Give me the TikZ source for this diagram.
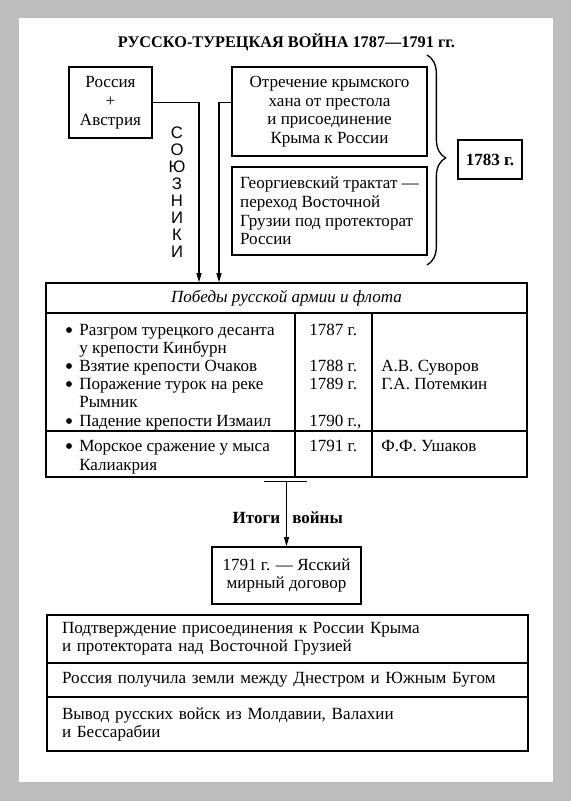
\documentclass[tikz,border=0pt]{standalone}
\usepackage{fontspec}
\setmainfont{Liberation Serif}
\newfontfamily\sovsans{Liberation Sans}
\usetikzlibrary{decorations.pathreplacing,arrows.meta,calc}
\definecolor{bggray}{RGB}{189,189,189}
\newcommand\fsz{\fontsize{12.8}{14}\selectfont}
\begin{document}
\begin{tikzpicture}[x=0.75pt,y=-0.75pt,
  every node/.style={font=\fsz, text=black},
  boxnode/.style={draw, line width=1pt, inner sep=0pt, align=center},
  resnode/.style={draw, line width=1pt, inner ysep=0pt, inner xsep=11.25pt, text width=338.25pt, align=left, font=\fontsize{12.8}{13.5}\selectfont},
  txt/.style={anchor=base west, inner sep=0pt},
  bul/.style={circle, fill=black, inner sep=0pt, minimum size=4.4pt},
  arr/.style={line width=1pt, -{Triangle[length=7pt,width=3.8pt]}},
  tline/.style={line width=1pt}]
\useasboundingbox (0,0) rectangle (571,801);
\fill[bggray] (0,0) rectangle (571,801);
\fill[white] (19,18) rectangle (553,782);

% title
\node[anchor=base, font=\fontsize{12.2}{14}\selectfont\bfseries] (title) at (286.5,47) {РУССКО-ТУРЕЦКАЯ ВОЙНА 1787—1791 гг.};

% top boxes
\node[boxnode, minimum width=62.25pt, minimum height=53.25pt, font=\fontsize{12.8}{14.25}\selectfont] (ra) at (110.5,102.5) {Россия\\+\\Австрия};
\node[boxnode, minimum width=146.25pt, minimum height=66.75pt] (otr) at (329.5,111.5) {Отречение крымского\\хана от престола\\и присоединение\\Крыма к России};
\node[boxnode, align=left, minimum width=146.25pt, minimum height=66pt] (geo) at (329.5,211) {Георгиевский трактат —\\переход Восточной\\Грузии под протекторат\\России};
\node[boxnode, minimum width=48pt, minimum height=29.25pt, font=\fsz\bfseries] (yr) at (490,159.5) {1783 г.};
\draw[line width=1pt, decorate, decoration={brace, amplitude=14pt, aspect=0.49}] (427,55) -- (427,265);

% allies
\node[align=center, inner sep=0pt, font=\fontsize{12.5}{12.75}\selectfont\sovsans] (allies) at (177,192.5) {С\\О\\Ю\\З\\Н\\И\\К\\И};

% table
\node[boxnode, minimum width=360.75pt, minimum height=22.5pt, font=\fsz\itshape] (hdr) at (286.5,298) {Победы русской армии и флота};
\node[boxnode, minimum width=360.75pt, minimum height=123pt] (body) at (286.5,395) {};
\draw[tline] (295,313) -- (295,477);
\draw[tline] (372,313) -- (372,477);
\draw[tline] (46,431) -- (527,431);

\draw[arr] (ra.east) -| ([xshift=-65.625pt]hdr.north);
\draw[arr] (otr.west |- ra.east) -| ([xshift=-50.625pt]hdr.north);

\foreach \yy/\nm in {330/b1,366/b2,384/b3,421/b4,446/b5}
  \node[bul] (\nm) at (69,\yy) {};
\node[txt] (l1) at (79,335) {Разгром турецкого десанта};
\node[txt] (l2) at (79,353) {у крепости Кинбурн};
\node[txt] (l3) at (79,371) {Взятие крепости Очаков};
\node[txt] (l4) at (79,389) {Поражение турок на реке};
\node[txt] (l5) at (79,407) {Рымник};
\node[txt] (l6) at (79,426) {Падение крепости Измаил};
\node[txt] (l7) at (79,451) {Морское сражение у мыса};
\node[txt] (l8) at (79,470) {Калиакрия};
\node[txt] (y1) at (309,335) {1787 г.};
\node[txt] (y2) at (309,371) {1788 г.};
\node[txt] (y3) at (309,389) {1789 г.};
\node[txt] (y4) at (309,426) {1790 г.,};
\node[txt] (y5) at (309,451) {1791 г.};
\node[txt] (n1) at (381,371) {А.В. Суворов};
\node[txt] (n2) at (381,389) {Г.А. Потемкин};
\node[txt] (n3) at (381,451) {Ф.Ф. Ушаков};

% results
\coordinate (bar) at ($(body.south)+(0,4)$);
\draw[tline] ([xshift=-17pt]bar) -- ([xshift=15pt]bar);
\node[boxnode, minimum width=111.75pt, minimum height=42.75pt, font=\fontsize{12.8}{14}\selectfont] (treaty) at (286.5,575.5) {1791 г. — Ясский\\мирный договор};
\draw[arr] (bar) -- (treaty.north);
\node[anchor=base east, inner sep=0pt, font=\fsz\bfseries] (it1) at (280.5,523) {Итоги};
\node[anchor=base west, inner sep=0pt, font=\fsz\bfseries] (it2) at (292,523) {войны};

\node[resnode, minimum height=36pt] (r1) at (287.5,639) {Подтверждение присоединения к России Крыма\\и протектората над Восточной Грузией};
\node[resnode, minimum height=25.5pt] (r2) at (287.5,680) {Россия получила земли между Днестром и Южным Бугом};
\node[resnode, minimum height=40.5pt] (r3) at (287.5,724) {Вывод русских войск из Молдавии, Валахии\\и Бессарабии};
\end{tikzpicture}
\end{document}
